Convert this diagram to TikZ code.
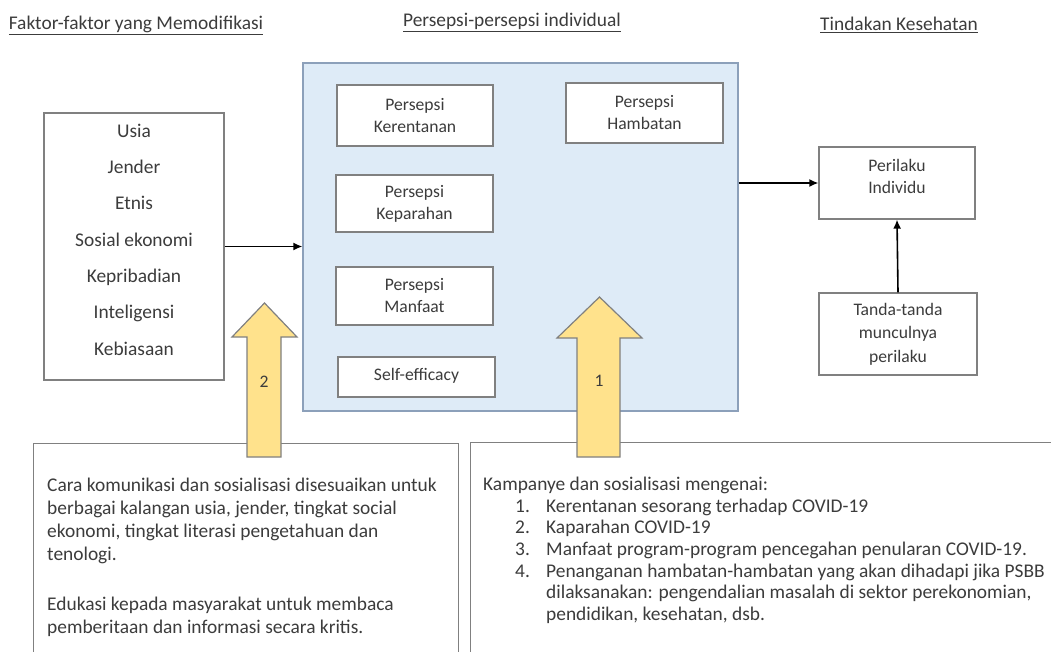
\documentclass[tikz,border=0pt]{standalone}
\usepackage{fontspec}
\setmainfont{Carlito}
\usetikzlibrary{arrows.meta}
\definecolor{garis}{RGB}{128,128,128}
\definecolor{biru}{RGB}{222,235,247}
\definecolor{birugaris}{RGB}{140,160,186}
\definecolor{kuning}{RGB}{255,226,140}
\definecolor{tulisan}{RGB}{60,60,60}
\tikzset{kotak/.style={draw=garis, line width=1.2, fill=white, align=center, text=tulisan, font=\fontsize{17.6}{22}\selectfont}}
\tikzset{judul/.style={text=tulisan, font=\fontsize{19.4}{23}\selectfont}}
\tikzset{panah/.style={-{Latex[length=9, width=8]}, line width=1.6}}
\tikzset{panahbesar/.style={draw=garis, line width=1.2, fill=kuning}}
\tikzset{teks/.style={text=tulisan, align=left, inner sep=0, anchor=north west}}

\begin{document}
\begin{tikzpicture}[x=1pt, y=-1pt]
\useasboundingbox (0,0) rectangle (1051,651);
% judul kolom
\node[judul] (judulkiri) at (136,25) {\underline{Faktor-faktor yang Memodifikasi}};
\node[judul] (judultengah) at (512,22) {\underline{Persepsi-persepsi individual}};
\node[judul] (judulkanan) at (899,25) {\underline{Tindakan Kesehatan}};

% faktor yang memodifikasi
\node[kotak, minimum width=180, minimum height=267, text depth=14, font=\fontsize{19.4}{36.3}\selectfont] (faktor) at (134,246.5) {Usia\\Jender\\Etnis\\Sosial ekonomi\\Kepribadian\\Inteligensi\\Kebiasaan};

% persepsi individual
\node[kotak, fill=biru, draw=birugaris, minimum width=435, minimum height=348] (persepsi) at (520.5,237) {};
\node[kotak, minimum width=156, minimum height=61] (kerentanan) at (415,115.5) {Persepsi\\Kerentanan};
\node[kotak, minimum width=157, minimum height=57] (keparahan) at (414.5,203.5) {Persepsi\\Keparahan};
\node[kotak, minimum width=157, minimum height=58] (manfaat) at (414.5,296) {Persepsi\\Manfaat};
\node[kotak, minimum width=157, minimum height=40, text depth=6] (efikasi) at (416.5,377) {Self-efficacy};
\node[kotak, minimum width=157, minimum height=60] (hambatan) at (644.5,113) {Persepsi\\Hambatan};

% tindakan kesehatan
\node[kotak, minimum width=156, minimum height=72, text depth=14] (perilaku) at (897,183) {Perilaku\\Individu};
\node[kotak, minimum width=158, minimum height=82, font=\fontsize{17.6}{23.5}\selectfont] (tanda) at (898,334) {Tanda-tanda\\munculnya\\perilaku};

\draw[panah] (faktor.east) -- (faktor.east -| persepsi.west);
\draw[panah] (persepsi.east |- perilaku.west) -- (perilaku.west);
\draw[panah] (tanda.north) -- (perilaku.south);

% kotak saran
\node[kotak, anchor=north west, minimum width=425, minimum height=260] (saran2) at (33,443) {};
\node[kotak, anchor=north west, minimum width=640, minimum height=260] (saran1) at (470,442) {};
\node[teks, font=\fontsize{19.4}{23}\selectfont] (teks2) at (47,478) {Cara komunikasi dan sosialisasi disesuaikan untuk\\berbagai kalangan usia, jender, tingkat social\\ekonomi, tingkat literasi pengetahuan dan\\tenologi.\\[27pt]Edukasi kepada masyarakat untuk membaca\\pemberitaan dan informasi secara kritis.};
\node[teks, font=\fontsize{19.4}{21.6}\selectfont] (teks1) at (483,477) {Kampanye dan sosialisasi mengenai:\\
\hspace*{32pt}\makebox[31pt][l]{1.}Kerentanan sesorang terhadap COVID-19\\
\hspace*{32pt}\makebox[31pt][l]{2.}Kaparahan COVID-19\\
\hspace*{32pt}\makebox[31pt][l]{3.}Manfaat program-program pencegahan penularan COVID-19.\\
\hspace*{32pt}\makebox[31pt][l]{4.}Penanganan hambatan-hambatan yang akan dihadapi jika PSBB\\
\hspace*{63pt}dilaksanakan: pengendalian masalah di sektor perekonomian,\\
\hspace*{63pt}pendidikan, kesehatan, dsb.};

% panah besar
\draw[panahbesar] (247,457) -- (247,337) -- (232,337) -- (264.5,303) -- (297,337) -- (281,337) -- (281,457) -- cycle;
\node[text=tulisan, font=\fontsize{17.6}{20}\selectfont] (nomor2) at (264,382) {2};
\draw[panahbesar] (577,457) -- (577,338) -- (557,338) -- (599.5,297) -- (642,338) -- (620,338) -- (620,457) -- cycle;
\node[text=tulisan, font=\fontsize{17.6}{20}\selectfont] (nomor1) at (599,381) {1};
\end{tikzpicture}
\end{document}
